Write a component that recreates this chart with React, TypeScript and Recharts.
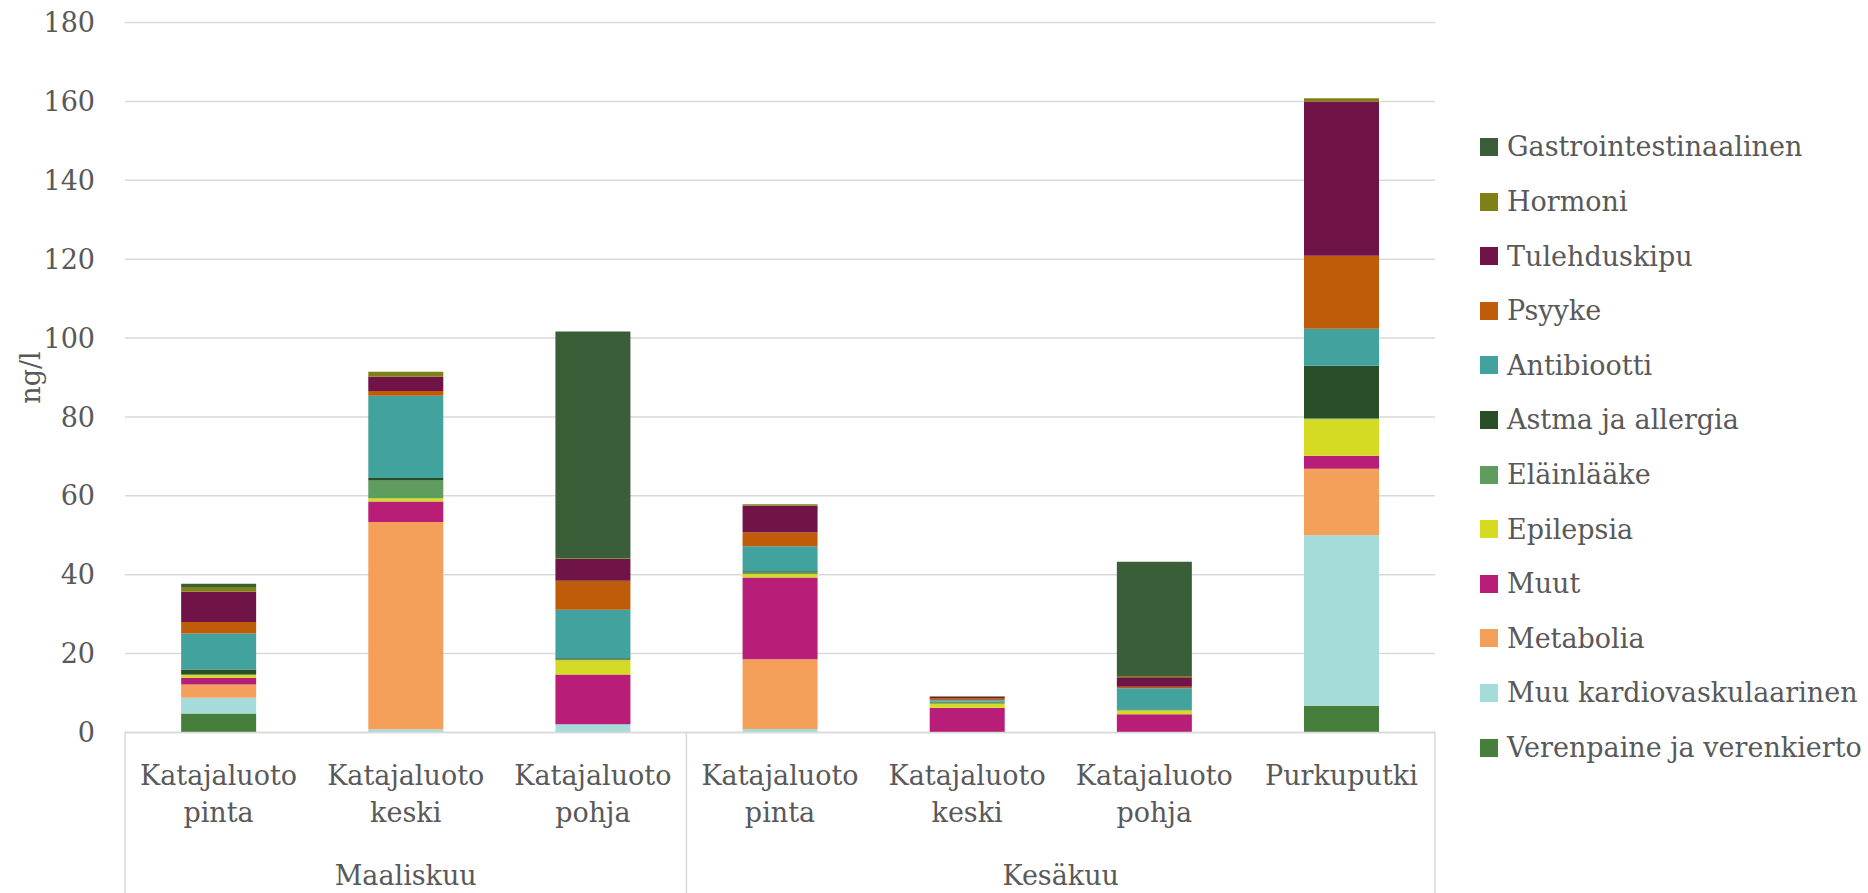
import React from "react";
import { BarChart, Bar, XAxis, YAxis, CartesianGrid, Legend } from "recharts";

// sample points, march and june
const places = [
  "Katajaluoto pinta",
  "Katajaluoto keski",
  "Katajaluoto pohja",
  "Katajaluoto pinta",
  "Katajaluoto keski",
  "Katajaluoto pohja",
  "Purkuputki",
];
const months = ["Maaliskuu", "Maaliskuu", "Maaliskuu", "Kesäkuu", "Kesäkuu", "Kesäkuu", "Kesäkuu"];
const yTicks = [0, 20, 40, 60, 80, 100, 120, 140, 160, 180];

// ng/l per drug group, bottom of the stack first
const verenpaine = [4.8, 0, 0, 0, 0, 0, 6.8];
const muuKardio = [4.0, 0.8, 2.1, 0.9, 0, 0, 43.2];
const metabolia = [3.4, 52.6, 0, 17.7, 0, 0, 16.9];
const muut = [1.7, 5.2, 12.6, 20.7, 6.3, 4.6, 3.3];
const epilepsia = [0.7, 0.8, 3.6, 0.9, 1.0, 1.0, 9.2];
const elainlaake = [0.1, 4.5, 0.2, 0.4, 0.5, 0.2, 0.3];
const astma = [1.3, 0.6, 0.3, 0.3, 0, 0.1, 13.3];
const antibiootti = [9.1, 20.9, 12.3, 6.3, 0.4, 5.3, 9.4];
const psyyke = [2.9, 1.2, 7.4, 3.6, 0.4, 0.4, 18.5];
const tulehduskipu = [7.7, 3.6, 5.5, 6.7, 0.4, 2.4, 39.1];
const hormoni = [1.2, 1.3, 0.2, 0.4, 0.2, 0.3, 0.8];
const gastro = [0.8, 0, 57.5, 0, 0, 29.0, 0];

const series = [
  { key: "Verenpaine ja verenkierto", values: verenpaine, color: "#467F3B" },
  { key: "Muu kardiovaskulaarinen", values: muuKardio, color: "#A5DBD8" },
  { key: "Metabolia", values: metabolia, color: "#F5A05A" },
  { key: "Muut", values: muut, color: "#B81E77" },
  { key: "Epilepsia", values: epilepsia, color: "#D4DB22" },
  { key: "Eläinlääke", values: elainlaake, color: "#5E9D5D" },
  { key: "Astma ja allergia", values: astma, color: "#2A4E28" },
  { key: "Antibiootti", values: antibiootti, color: "#42A29D" },
  { key: "Psyyke", values: psyyke, color: "#BE5C0A" },
  { key: "Tulehduskipu", values: tulehduskipu, color: "#701347" },
  { key: "Hormoni", values: hormoni, color: "#7F8017" },
  { key: "Gastrointestinaalinen", values: gastro, color: "#3A5F38" },
];

const data = places.map((name, i) => {
  const row: Record<string, string | number> = { name, month: months[i] };
  series.forEach((s) => (row[s.key] = s.values[i]));
  return row;
});

const FONT = "DejaVu Serif";
const TXT = "#595959";
const LINE = "#D9D9D9";

const CategoryTick = (props: any) => {
  const { x, y, payload } = props;
  const i = payload.index;
  const half = payload.offset || 93.6;
  const words = String(payload.value).split(" ");
  const first = i === 0 || months[i] !== months[i - 1];
  let groupLabel = null;
  if (first) {
    let n = 0;
    while (months[i + n] === months[i]) n++;
    const left = x - half;
    groupLabel = (
      <g>
        <line x1={left} y1={y} x2={left} y2={y + 165} stroke={LINE} strokeWidth={1.5} />
        <text x={left + n * half} y={y + 152} textAnchor="middle" fill={TXT} fontSize={27} fontFamily={FONT}>
          {months[i]}
        </text>
      </g>
    );
  }
  return (
    <g>
      {words.map((w, k) => (
        <text key={k} x={x} y={y + 52 + k * 37} textAnchor="middle" fill={TXT} fontSize={27} fontFamily={FONT}>
          {w}
        </text>
      ))}
      {groupLabel}
      {i === places.length - 1 && (
        <line x1={x + half} y1={y} x2={x + half} y2={y + 165} stroke={LINE} strokeWidth={1.5} />
      )}
    </g>
  );
};

const YTitle = (props: any) => {
  const { viewBox } = props;
  const cx = 31;
  const cy = viewBox.y + viewBox.height / 2;
  return (
    <text
      x={cx}
      y={cy}
      transform={`rotate(-90, ${cx}, ${cy})`}
      textAnchor="middle"
      dominantBaseline="central"
      fill={TXT}
      fontSize={27}
      fontFamily={FONT}
    >
      ng/l
    </text>
  );
};

const LegendList = () => (
  <div style={{ fontFamily: FONT, fontSize: 27, color: TXT }}>
    {[...series].reverse().map((s) => (
      <div key={s.key} style={{ display: "flex", alignItems: "center", height: 54.6, whiteSpace: "nowrap" }}>
        <span style={{ width: 18, height: 18, background: s.color, marginRight: 9, flex: "none" }} />
        {s.key}
      </div>
    ))}
  </div>
);

export default function App() {
  return (
    <div style={{ position: "absolute", left: 0, top: 0, width: 1868, height: 893, background: "#fff", overflow: "hidden" }}>
      <BarChart
        width={1868}
        height={893}
        data={data}
        margin={{ top: 22.6, right: 43, bottom: 0, left: 0 }}
        barCategoryGap="30%"
      >
        <CartesianGrid vertical={false} stroke={LINE} strokeWidth={1.5} />
        <XAxis
          dataKey="name"
          height={160.5}
          interval={0}
          tickLine={false}
          tickSize={0}
          tickMargin={0}
          axisLine={{ stroke: LINE, strokeWidth: 1.5 }}
          tick={<CategoryTick />}
        />
        <YAxis
          width={125}
          domain={[0, 180]}
          ticks={yTicks}
          axisLine={false}
          tickLine={false}
          tickMargin={24}
          tick={{ fill: TXT, fontSize: 27, fontFamily: FONT }}
          label={<YTitle />}
        />
        <Legend
          layout="vertical"
          align="right"
          verticalAlign="top"
          content={<LegendList />}
          wrapperStyle={{ left: 1480, top: 119.7, width: 390 }}
        />
        {series.map((s) => (
          <Bar key={s.key} dataKey={s.key} stackId="a" fill={s.color} isAnimationActive={false} />
        ))}
      </BarChart>
    </div>
  );
}
